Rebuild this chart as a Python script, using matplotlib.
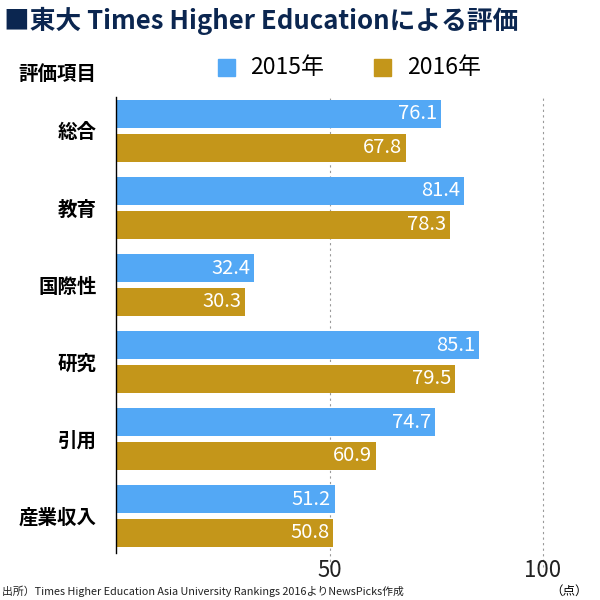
import numpy as np
import matplotlib
matplotlib.use('Agg')
import matplotlib.pyplot as plt
from matplotlib.patches import Rectangle

plt.rcParams['font.family'] = ['Noto Sans CJK JP', 'DejaVu Sans']

# DATA
categories = ['総合', '教育', '国際性', '研究', '引用', '産業収入']
vals_2015 = [76.1, 81.4, 32.4, 85.1, 74.7, 51.2]
vals_2016 = [67.8, 78.3, 30.3, 79.5, 60.9, 50.8]
series_names = ['2015年', '2016年']
xticks = [50, 100]

c15 = '#53a8f5'
c16 = '#c4961a'
navy = '#0b2650'

fig = plt.figure(figsize=(6, 6), dpi=100)
ax = fig.add_axes([116/600, 1-553/600, (590-116)/600, (553-97)/600])

y = np.arange(len(categories))
off = 0.22
h = 0.36
b1 = ax.barh(y - off, vals_2015, height=h, color=c15)
b2 = ax.barh(y + off, vals_2016, height=h, color=c16)

for bars, vals in ((b1, vals_2015), (b2, vals_2016)):
    for b, v in zip(bars, vals):
        ax.text(v - 0.9, b.get_y() + b.get_height()/2, f'{v:.1f}',
                color='white', fontsize=14.5, ha='right', va='center')

ax.set_xlim(0, 111)
ax.set_ylim(5.48, -0.44)
for t in xticks:
    ax.axvline(t, ymin=-0.03, ymax=1.0, color='#999999', lw=0.8,
               ls=(0, (2, 3)), clip_on=False, zorder=0)

ax.set_yticks(y)
ax.set_yticklabels(categories, fontsize=14, fontweight='bold')
ax.set_xticks(xticks)
ax.set_xticklabels([str(t) for t in xticks], fontsize=16, color='#222222')
ax.tick_params(axis='both', length=0)
ax.tick_params(axis='y', pad=14)
ax.tick_params(axis='x', pad=4)
for s in ['top', 'right', 'bottom']:
    ax.spines[s].set_visible(False)
ax.spines['left'].set_color('black')
ax.spines['left'].set_linewidth(1.0)

# title
fig.text(4/600, 1-21/600, '■東大 Times Higher Educationによる評価', fontsize=18.5,
         fontweight='bold', color=navy, va='center', ha='left')
fig.text(18/600, 1-75/600, '評価項目', fontsize=14, fontweight='bold', va='center')

# legend
for sx, tx, col, name in ((218, 250, c15, series_names[0]), (374, 407, c16, series_names[1])):
    fig.patches.append(Rectangle((sx/600, 1-76/600), 17/600, 17/600,
                                 transform=fig.transFigure, color=col))
    fig.text(tx/600, 1-67/600, name, fontsize=16.5, va='center', ha='left')

fig.text(550/600, 1-591/600, '（点）', fontsize=9, va='center', ha='left')
fig.text(2/600, 1-591/600,
         '出所）Times Higher Education Asia University Rankings 2016よりNewsPicks作成',
         fontsize=7.8, va='center', ha='left', color='#222222')

fig.savefig('out.png', dpi=100)
